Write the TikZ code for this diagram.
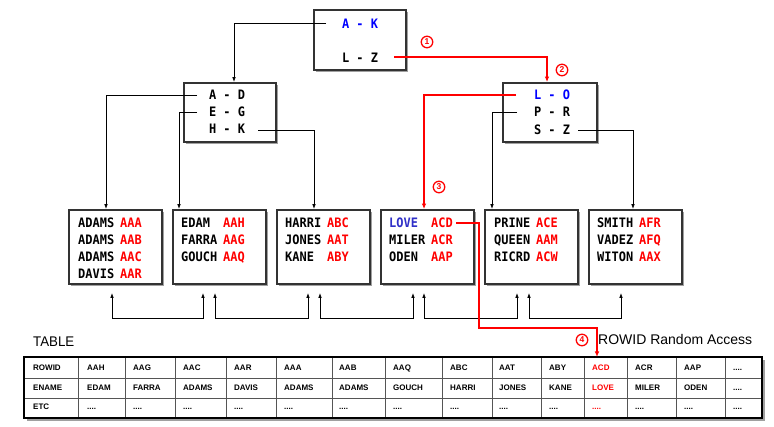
\documentclass[tikz,border=0pt]{standalone}
\usepackage{fontspec}
\setmainfont{Liberation Sans}
\newfontfamily\boxfont{DejaVu Sans Mono}[FakeStretch=0.92]
\newfontfamily\condsans{Liberation Sans}[FakeStretch=0.95]
\usetikzlibrary{arrows.meta,shadows}
\definecolor{boxgray}{HTML}{333333}
\definecolor{shadowgray}{HTML}{A0A0A0}
\definecolor{kblue}{HTML}{0000FF}
\definecolor{loveblue}{HTML}{3030C8}
\definecolor{kred}{HTML}{FF0000}
\definecolor{tgray}{HTML}{555555}
\newcommand\fdots{....}
\newcommand\lfline[6]{%
  \node[lt] (l#1n#2) at (#3,#4) {#5};
  \node[lt,text=kred] (l#1c#2) at (#3+42,#4) {#6};}
\begin{document}
\begin{tikzpicture}[x=1pt,y=-1pt,
  treebox/.style={draw=boxgray, line width=1.8pt, fill=white, inner sep=0,
    drop shadow={shadow xshift=2pt, shadow yshift=-2pt, fill=shadowgray, opacity=1}},
  bt/.style={font=\boxfont\bfseries\fontsize{13}{13}\selectfont, inner sep=0, anchor=base},
  lt/.style={font=\boxfont\bfseries\fontsize{13}{13}\selectfont, inner sep=0, anchor=base west},
  tt/.style={font=\bfseries\fontsize{8}{8}\selectfont, inner sep=0, anchor=base west},
  conn/.style={draw=black, line width=0.8pt, -{Latex[length=5pt,width=3.6pt]}},
  bconn/.style={draw=black, line width=0.8pt, {Latex[length=5pt,width=3.6pt]}-{Latex[length=5pt,width=3.6pt]}},
  rconn/.style={draw=kred, line width=1.6pt, -{Latex[length=5.5pt,width=4.5pt]}},
  circ/.style={circle, draw=kred, line width=1.3pt, text=kred, inner sep=0,
    minimum size=11.5, font=\bfseries\fontsize{8.5}{8.5}\selectfont},
  tline/.style={draw=tgray, line width=0.6pt},
  ]
\useasboundingbox (0,0) rectangle (774,427);

% ---- tree boxes
\node[treebox, minimum width=92, minimum height=60] (root) at (360,40) {};
\node[treebox, minimum width=92, minimum height=59] (ml) at (230,112.5) {};
\node[treebox, minimum width=94, minimum height=59] (mr) at (550,112.5) {};
\foreach \i/\lx in {1/69,2/173,3/277,4/381,5/485,6/589}
  \node[treebox, minimum width=93, minimum height=74] (leaf\i) at (\lx+46.5,247) {};

% ---- tree texts
\node[bt, text=kblue] (ak) at (360,29) {A - K};
\node[bt] (lz) at (360,63) {L - Z};
\node[bt] (ad) at (227,100) {A - D};
\node[bt] (eg) at (227,117) {E - G};
\node[bt] (hk) at (227,134) {H - K};
\node[bt, text=kblue] (lo) at (552,100) {L - O};
\node[bt] (pr) at (552,117) {P - R};
\node[bt] (sz) at (552,135) {S - Z};

\lfline{1}{1}{78}{228}{ADAMS}{AAA}
\lfline{1}{2}{78}{245}{ADAMS}{AAB}
\lfline{1}{3}{78}{262}{ADAMS}{AAC}
\lfline{1}{4}{78}{279}{DAVIS}{AAR}
\lfline{2}{1}{181}{228}{EDAM}{AAH}
\lfline{2}{2}{181}{245}{FARRA}{AAG}
\lfline{2}{3}{181}{262}{GOUCH}{AAQ}
\lfline{3}{1}{285}{228}{HARRI}{ABC}
\lfline{3}{2}{285}{245}{JONES}{AAT}
\lfline{3}{3}{285}{262}{KANE}{ABY}
\lfline{4}{1}{389}{228}{\textcolor{loveblue}{LOVE}}{ACD}
\lfline{4}{2}{389}{245}{MILER}{ACR}
\lfline{4}{3}{389}{262}{ODEN}{AAP}
\lfline{5}{1}{494}{228}{PRINE}{ACE}
\lfline{5}{2}{494}{245}{QUEEN}{AAM}
\lfline{5}{3}{494}{262}{RICRD}{ACW}
\lfline{6}{1}{597}{228}{SMITH}{AFR}
\lfline{6}{2}{597}{245}{VADEZ}{AFQ}
\lfline{6}{3}{597}{262}{WITON}{AAX}

% ---- connector start points
\coordinate (sak) at (326,23);
\coordinate (slz) at (394,57);
\coordinate (sad) at (197,95);
\coordinate (seg) at (197,112);
\coordinate (shk) at (258,130);
\coordinate (slo) at (516,95);
\coordinate (spr) at (517,112);
\coordinate (ssz) at (578,130);

\draw[conn] (sak) -| ([xshift=4pt]ml.north);
\draw[rconn] (slz) -| ([xshift=-3pt]mr.north);
\draw[conn] (sad) -| ([xshift=-9.5pt]leaf1.north);
\draw[conn] (seg) -| ([xshift=-40.5pt]leaf2.north);
\draw[conn] (shk) -| ([xshift=-9.5pt]leaf3.north);
\draw[rconn] (slo) -| ([xshift=-3.5pt]leaf4.north);
\draw[conn] (spr) -| ([xshift=-39.5pt]leaf5.north);
\draw[conn] (ssz) -| ([xshift=-2.5pt]leaf6.north);

% ---- leaf chain links
\draw[bconn] ([xshift=-3.5pt,yshift=-8pt]leaf1.south) -- ++(0,26) -| ([xshift=-16.5pt,yshift=-8pt]leaf2.south);
\draw[bconn] ([xshift=-4.5pt,yshift=-8pt]leaf2.south) -- ++(0,26) -| ([xshift=-15.5pt,yshift=-8pt]leaf3.south);
\draw[bconn] ([xshift=-3.5pt,yshift=-8pt]leaf3.south) -- ++(0,26) -| ([xshift=-14.5pt,yshift=-8pt]leaf4.south);
\draw[bconn] ([xshift=-3.5pt,yshift=-8pt]leaf4.south) -- ++(0,26) -| ([xshift=-14.5pt,yshift=-8pt]leaf5.south);
\draw[bconn] ([xshift=-2.5pt,yshift=-8pt]leaf5.south) -- ++(0,26) -| ([xshift=-14.5pt,yshift=-8pt]leaf6.south);

% ---- circled numbers
\node[circ] (n1) at (427,42) {1};
\node[circ] (n2) at (562,70) {2};
\node[circ] (n3) at (439,187) {3};
\node[circ] (n4) at (582,340) {4};

% ---- table
\node[font=\condsans\fontsize{14}{14}\selectfont, inner sep=0, anchor=base west] (tabletitle) at (33,347) {TABLE};
\node[font=\fontsize{14}{14}\selectfont, inner sep=0, anchor=base west] (rowidtitle) at (598,345) {ROWID Random Access};

\fill[shadowgray] (27,360) rectangle (765,421);
\fill[white] (24,357) rectangle (762,418);
\draw[tline] (24,378) -- (762,378);
\draw[tline] (24,398) -- (762,398);
\foreach \x in {78,125,175,226,276,332,385,442,492,541,584,627,676,725}
  \draw[tline] (\x,357) -- (\x,418);
\draw[line width=2pt, draw=black] (24,357) rectangle (762,418);

\foreach \c/\x/\a/\b/\d in {1/33/ROWID/ENAME/ETC, 2/87/AAH/EDAM/\fdots, 3/133/AAG/FARRA/\fdots,
  4/183/AAC/ADAMS/\fdots, 5/234/AAR/DAVIS/\fdots, 6/284/AAA/ADAMS/\fdots, 7/339/AAB/ADAMS/\fdots,
  8/393/AAQ/GOUCH/\fdots, 9/450/ABC/HARRI/\fdots, 10/499/AAT/JONES/\fdots, 11/549/ABY/KANE/\fdots,
  13/635/ACR/MILER/\fdots, 14/684/AAP/ODEN/\fdots, 15/733/\fdots/\fdots/\fdots}
{
  \node[tt] (r1c\c) at (\x,371) {\a};
  \node[tt] (r2c\c) at (\x,391) {\b};
  \node[tt] (r3c\c) at (\x,410) {\d};
}
\node[tt, text=kred] (r1c12) at (592,371) {ACD};
\node[tt, text=kred] (r2c12) at (592,391) {LOVE};
\node[tt, text=kred] (r3c12) at (592,410) {....};

\coordinate (acdtop) at (597,357);
\coordinate (bend4) at (479,328);
\draw[rconn] ([xshift=3pt]l4c1.east) -| (bend4) -| (acdtop);
\end{tikzpicture}
\end{document}
